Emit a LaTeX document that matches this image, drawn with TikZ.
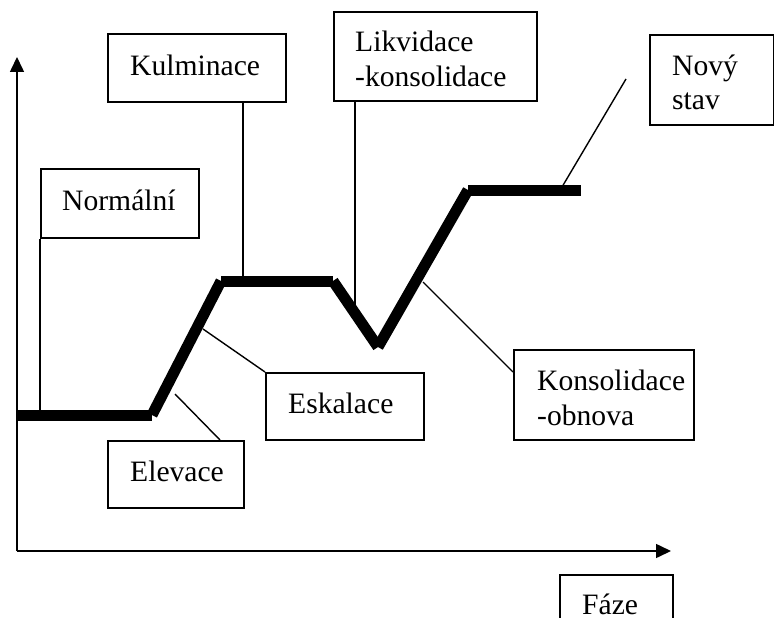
\documentclass[tikz,border=0pt]{standalone}
\usepackage{fontspec}
\setmainfont{Liberation Serif}
\usetikzlibrary{arrows.meta,calc}
\begin{document}
\begin{tikzpicture}[x=1pt,y=-1pt,
  frame/.style={draw,line width=1.6pt,inner sep=0pt,anchor=north west},
  txt/.style={anchor=base west,inner sep=0pt,font=\fontsize{29.6}{35}\selectfont,align=left},
  curve/.style={line width=11pt,line cap=butt},
  thinline/.style={line width=1.4pt},
  axis/.style={line width=1.6pt,-{Triangle[length=15pt,width=14pt]}}]
\useasboundingbox (0,0) rectangle (774,618);

% axes
\coordinate (O) at (17,551);
\coordinate (Ytip) at (17,57);
\coordinate (Xtip) at (671,551);
\draw[axis] (O) -- (Ytip);
\draw[axis] (O) -- (Xtip);

% thick course
\coordinate (p0) at (17,415);
\coordinate (p1) at (152,415);
\coordinate (p2) at (221,281);
\coordinate (p3) at (333,281);
\coordinate (p4) at (378,347);
\coordinate (p5) at (468,190);
\coordinate (p6) at (581,190);
\draw[curve] (p0) -- (p1);
\draw[curve] (p1) -- (p2);
\draw[curve] (p2) -- (p3);
\draw[curve] (p3) -- (p4);
\draw[curve] (p4) -- (p5);
\draw[curve] (p5) -- (p6);

% boxes
\node[frame,minimum width=158pt,minimum height=69pt] (norm) at (40,168) {};
\node[frame,minimum width=178pt,minimum height=68pt] (kul) at (107,33) {};
\node[frame,minimum width=203pt,minimum height=89pt] (lik) at (333,11) {};
\node[frame,minimum width=124pt,minimum height=90pt] (novy) at (649,34) {};
\node[frame,minimum width=158pt,minimum height=67pt] (esk) at (265,372) {};
\node[frame,minimum width=136pt,minimum height=67pt] (elev) at (107,440) {};
\node[frame,minimum width=180pt,minimum height=90pt] (kons) at (513,349) {};
\node[frame,minimum width=113pt,minimum height=70pt] (faze) at (559,574) {};

% texts
\node[txt] (tnorm) at (62,210) {Normální};
\node[txt] (tkul) at (130,75) {Kulminace};
\node[txt,text width=190pt] (tlik) at (355,52) {Likvidace\\-konsolidace};
\node[txt,text width=100pt] (tnovy) at (672,75) {Nový\\stav};
\node[txt] (tesk) at (288,413) {Eskalace};
\node[txt] (telev) at (130,481) {Elevace};
\node[txt,text width=170pt] (tkons) at (537,390) {Konsolidace\\-obnova};
\node[txt] (tfaze) at (582,614) {Fáze};

% connectors
\coordinate (cnorm) at (40,415);
\draw[thinline] (norm.south west) -- (cnorm);
\coordinate (kulA) at (243,101);
\coordinate (kulB) at (243,281);
\draw[thinline] (kulA) -- (kulB);
\coordinate (likA) at (355,100);
\coordinate (likB) at (355,308);
\draw[thinline] (likA) -- (likB);
\coordinate (novA) at (626,79);
\coordinate (novB) at (562,187);
\draw[thinline] (novA) -- (novB);
\coordinate (eskA) at (203,329);
\draw[thinline] (eskA) -- (esk.north west);
\coordinate (elevA) at (175,394);
\coordinate (elevB) at (220,440);
\draw[thinline] (elevA) -- (elevB);
\coordinate (konsA) at (423,282);
\coordinate (konsB) at (513,372);
\draw[thinline] (konsA) -- (konsB);
\end{tikzpicture}
\end{document}
